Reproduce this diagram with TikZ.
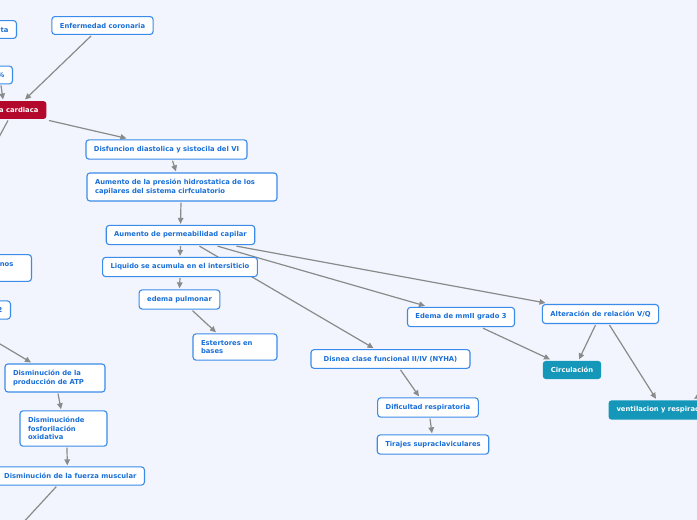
\documentclass[tikz,border=0pt]{standalone}
\usepackage{fontspec}
\setmainfont{DejaVu Sans}
\usepackage{tikz}
\usetikzlibrary{arrows.meta, calc}

\definecolor{mapbg}{HTML}{F2F5FD}
\definecolor{maptext}{HTML}{1A6FD8}
\definecolor{mapborder}{HTML}{3A8BEA}
\definecolor{maproot}{HTML}{B3072C}
\definecolor{mapteal}{HTML}{1597B9}
\definecolor{mapline}{HTML}{8A8A8A}

\pgfdeclarelayer{bg}
\pgfsetlayers{bg,main}

\tikzset{
  topic/.style={draw=mapborder, fill=white, line width=1.1pt, rounded corners=3pt,
    text=maptext, font=\bfseries\fontsize{6.8}{8.6}\selectfont,
    inner xsep=8pt, inner ysep=6.3pt, align=left},
  rootic/.style={topic, draw=none, fill=maproot, text=white},
  branchbox/.style={topic, draw=none, fill=mapteal, text=white},
  link/.style={draw=mapline, line width=1.2pt, -{Triangle[length=6pt,width=5.5pt]}},
  plainlink/.style={draw=mapline, line width=1.2pt}
}

\begin{document}
\begin{tikzpicture}[x=1pt, y=-1pt]
\useasboundingbox (0,0) rectangle (697,520);

% left column, cut off by the page edge
\node[topic, anchor=east] (dieta) at (17,29.5) {Dieta};
\node[topic, anchor=east] (fevi) at (13,75) {FEVI 40\%};
\node[rootic, anchor=east] (ic) at (47,110) {Insuficiencia cardiaca};
\node[topic, anchor=east] (organos) at (32,268) {Hipoperfusión de órganos\rule{10pt}{0pt}\\vitales};
\node[topic, anchor=east] (oxig) at (11,310) {Disminución de O2};

% main chain
\node[topic] (coronaria) at (102.5,25.5) {Enfermedad coronaria};
\node[topic] (disf) at (166.5,149.5) {Disfuncion diastolica y sistocila del VI};
\node[topic, text width=174pt] (presion) at (182,187)
  {Aumento de la presión hidrostatica de los\\capilares del sistema cirfculatorio};
\node[topic] (permeab) at (180.5,235) {Aumento de permeabilidad capilar};
\node[topic] (liquido) at (180,267) {Liquido se acumula en el intersiticio};
\node[topic] (edema) at (179.5,299.5) {edema pulmonar};
\node[topic, text width=68pt] (estert) at (235,347) {Estertores en\\bases};

% right side
\node[topic, minimum width=159pt, align=center] (disnea) at (390.5,359) {Disnea clase funcional II/IV (NYHA)};
\node[topic] (mmii) at (461,317) {Edema de mmII grado 3};
\node[topic] (vq) at (600.5,314) {Alteración de relación V/Q};
\node[branchbox] (circ) at (572,370) {Circulación};
\node[branchbox, anchor=west] (vent) at (608,410) {ventilacion y respiracion};
\node[topic] (dific) at (428,407.5) {Dificultad respiratoria};
\node[topic] (tirajes) at (433,444.5) {Tirajes supraclaviculares};

% lower left
\node[topic, text width=84pt] (atp) at (55,378) {Disminución de la\\producción de ATP};
\node[topic, text width=71pt] (fosf) at (63.5,428.5) {Disminuciónde\\fosforilación\\oxidativa};
\node[topic, anchor=east] (fuerza) at (145,476) {Disminución de la fuerza muscular};

% loose ends off the page
\coordinate (offic) at (-8,150);
\coordinate (offatp) at (-10,338);
\coordinate (offvent) at (704,393);
\coordinate (offfuerza) at (20,526);

\begin{pgfonlayer}{bg}
\fill[mapbg] (0,0) rectangle (697,520);
\draw[link] ($(coronaria.south)+(-11.5,1)$) -- ($(ic.north east)+(-22,-1)$);
\draw[link] ($(fevi.south east)+(-12,1)$) -- ($(ic.north east)+(-44,-1)$);
\draw[plainlink] ($(ic.south east)+(-39,1)$) -- (offic);
\draw[link] ($(ic.south east)+(2,1)$) -- ($(disf.north)+(-40,-1)$);
\draw[link] ($(disf.south)+(6,1)$) -- ($(presion.north)+(-6,-1)$);
\draw[link] ($(presion.south)+(-1,1)$) -- ($(permeab.north)+(0,-1)$);
\draw[link] ($(permeab.south)+(0,1)$) -- ($(liquido.north)+(0,-1)$);
\draw[link] ($(liquido.south)+(0,1)$) -- ($(edema.north)+(0,-1)$);
\draw[link] ($(edema.south)+(13,1)$) -- ($(estert.north)+(-19,-1)$);
\draw[link] ($(permeab.south)+(19,1)$) -- ($(disnea.north)+(-17,-1)$);
\draw[link] ($(permeab.south)+(37,1)$) -- ($(mmii.north)+(-36,-1)$);
\draw[link] ($(permeab.south)+(56,1)$) -- ($(vq.north)+(-55,-1)$);
\draw[link] ($(mmii.south)+(22,1)$) -- ($(circ.north)+(-22,-1)$);
\draw[link] ($(vq.south)+(-5,1)$) -- ($(circ.north)+(7,-1)$);
\draw[link] ($(vq.south)+(9,1)$) -- ($(vent.north west)+(48,-1)$);
\draw[link] (offvent) -- ($(vent.north west)+(86,-1)$);
\draw[link] ($(disnea.south)+(10,1)$) -- ($(dific.north)+(-9,-1)$);
\draw[link] ($(dific.south)+(2,1)$) -- ($(tirajes.north)+(-1,-1)$);
\draw[link] (offatp) -- ($(atp.north)+(-24,-1)$);
\draw[link] ($(atp.south)+(3,1)$) -- ($(fosf.north)+(-2.5,-1)$);
\draw[link] ($(fosf.south)+(3.5,1)$) -- ($(fuerza.north)+(-3,-1)$);
\draw[plainlink] ($(fuerza.south)+(-14,1)$) -- (offfuerza);
\end{pgfonlayer}
\end{tikzpicture}
\end{document}
